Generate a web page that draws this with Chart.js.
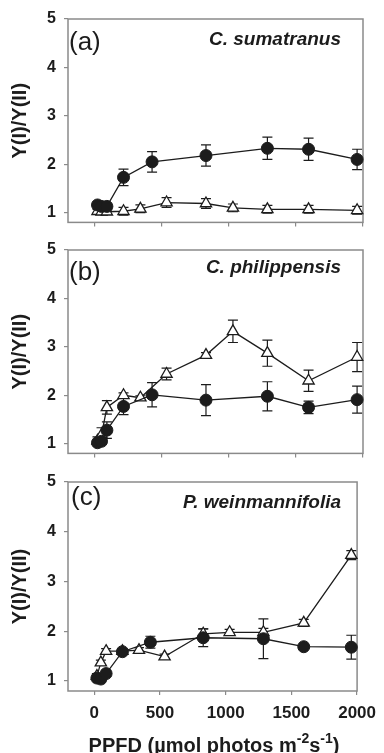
<!DOCTYPE html>
<html>
<head>
<meta charset="utf-8">
<script src="https://cdn.jsdelivr.net/npm/chart.js@4.4.1/dist/chart.umd.min.js"></script>
<style>
  html, body { margin: 0; padding: 0; background: #fff; }
  #wrap { position: relative; width: 384px; height: 753px; overflow: hidden; background: #fff; }
  #wrap canvas { position: absolute; left: 0; }
</style>
</head>
<body>
<div id="wrap">
  <canvas id="chart_a"></canvas>
  <canvas id="chart_b"></canvas>
  <canvas id="chart_c"></canvas>
</div>
<script>
// PPFD steps (umol photons m-2 s-1)
const ppfdCircle = [20, 50, 90, 214, 427, 829, 1287, 1594, 1956];
const ppfdTriangle = [20, 50, 90, 214, 340, 535, 829, 1030, 1287, 1594, 1956];
const xTicks = [0, 500, 1000, 1500, 2000];
const yTicks = [1, 2, 3, 4, 5];

// (a) C. sumatranus
const sumatranusCircle = [1.16, 1.13, 1.13, 1.73, 2.05, 2.18, 2.33, 2.31, 2.10];
const sumatranusCircleErr = [0.06, 0.05, 0.05, 0.17, 0.21, 0.22, 0.23, 0.23, 0.21];
const sumatranusTriangle = [1.03, 1.02, 1.02, 1.03, 1.08, 1.21, 1.19, 1.10, 1.07, 1.07, 1.05];
const sumatranusTriangleErr = [0.04, 0.04, 0.04, 0.08, 0.08, 0.10, 0.10, 0.08, 0.08, 0.08, 0.08];

// (b) C. philippensis
const philippensisCircle = [1.02, 1.05, 1.28, 1.77, 2.01, 1.90, 1.98, 1.75, 1.91];
const philippensisCircleErr = [0.04, 0.06, 0.17, 0.17, 0.25, 0.32, 0.30, 0.13, 0.28];
const philippensisTriangle = [1.06, 1.18, 1.75, 2.00, 1.95, 2.44, 2.83, 3.32, 2.87, 2.30, 2.79];
const philippensisTriangleErr = [0.08, 0.15, 0.14, 0.05, 0.04, 0.12, 0.05, 0.23, 0.27, 0.22, 0.30];

// (c) P. weinmannifolia
const weinmannifoliaCircle = [1.06, 1.04, 1.15, 1.59, 1.78, 1.87, 1.85, 1.69, 1.68];
const weinmannifoliaCircleErr = [0.04, 0.05, 0.05, 0.05, 0.12, 0.18, 0.40, 0.03, 0.24];
const weinmannifoliaTriangle = [1.10, 1.37, 1.60, 1.60, 1.62, 1.49, 1.95, 1.98, 1.98, 2.17, 3.53];
const weinmannifoliaTriangleErr = [0.05, 0.05, 0.05, 0.05, 0.05, 0.05, 0.10, 0.06, 0.08, 0.07, 0.09];

const INK = '#1c1c1c';
const FRAME = '#8a8a8a';
const FONT = '"Liberation Sans", Arial, Helvetica, sans-serif';

const panels = [
    { id: 'chart_a', tag: '(a)', species: 'C. sumatranus',
      circle: sumatranusCircle, circleErr: sumatranusCircleErr,
      tri: sumatranusTriangle, triErr: sumatranusTriangleErr,
      plotTop: 19, plotBottom: 229, showX: false, tagX: 69, tagY: 50, speciesY: 45 },
    { id: 'chart_b', tag: '(b)', species: 'C. philippensis',
      circle: philippensisCircle, circleErr: philippensisCircleErr,
      tri: philippensisTriangle, triErr: philippensisTriangleErr,
      plotTop: 250, plotBottom: 460, showX: false, tagX: 69, tagY: 280, speciesY: 273 },
    { id: 'chart_c', tag: '(c)', species: 'P. weinmannifolia',
      circle: weinmannifoliaCircle, circleErr: weinmannifoliaCircleErr,
      tri: weinmannifoliaTriangle, triErr: weinmannifoliaTriangleErr,
      plotTop: 482, plotBottom: 691, showX: true, tagX: 71, tagY: 505, speciesY: 508 }
];

function toPoints(xs, ys) {
    return xs.map((x, i) => ({ x: x, y: ys[i] }));
}

// box around the plot area
const framePlugin = {
    id: 'frame',
    beforeDatasetsDraw(chart) {
        const a = chart.chartArea;
        const ctx = chart.ctx;
        ctx.save();
        ctx.strokeStyle = FRAME;
        ctx.lineWidth = 1.5;
        ctx.strokeRect(a.left, a.top, a.right - a.left, a.bottom - a.top);
        ctx.restore();
    }
};

// vertical error bars with caps, drawn under the markers
const errorBarPlugin = {
    id: 'errorBars',
    beforeDatasetsDraw(chart) {
        const ctx = chart.ctx;
        const xs = chart.scales.x;
        const ys = chart.scales.y;
        ctx.save();
        ctx.strokeStyle = INK;
        ctx.lineWidth = 1.2;
        chart.data.datasets.forEach(ds => {
            ds.data.forEach((pt, i) => {
                const err = ds.errors[i];
                const px = xs.getPixelForValue(pt.x);
                const top = ys.getPixelForValue(pt.y + err);
                const bottom = ys.getPixelForValue(pt.y - err);
                ctx.beginPath();
                ctx.moveTo(px, top);
                ctx.lineTo(px, bottom);
                ctx.moveTo(px - 5, top);
                ctx.lineTo(px + 5, top);
                ctx.moveTo(px - 5, bottom);
                ctx.lineTo(px + 5, bottom);
                ctx.stroke();
            });
        });
        ctx.restore();
    }
};

function makeLabelPlugin(p, canvasTop) {
    return {
        id: 'panelLabels',
        afterDraw(chart) {
            const ctx = chart.ctx;
            ctx.save();
            ctx.fillStyle = INK;
            ctx.textBaseline = 'alphabetic';
            ctx.textAlign = 'left';
            ctx.font = '26px ' + FONT;
            ctx.fillText(p.tag, p.tagX, p.tagY - canvasTop);
            ctx.textAlign = 'right';
            ctx.font = 'italic bold 19px ' + FONT;
            ctx.fillText(p.species, 341, p.speciesY - canvasTop);
            ctx.restore();
        }
    };
}

// x axis title with superscripts, only on the bottom panel
function makeXTitlePlugin(canvasTop) {
    return {
        id: 'xTitle',
        afterDraw(chart) {
            const ctx = chart.ctx;
            const parts = [
                { text: 'PPFD (\u00b5mol photos m', sup: false },
                { text: '-2', sup: true },
                { text: 's', sup: false },
                { text: '-1', sup: true },
                { text: ')', sup: false }
            ];
            const mainFont = 'bold 20px ' + FONT;
            const supFont = 'bold 14px ' + FONT;
            ctx.save();
            ctx.fillStyle = INK;
            ctx.textBaseline = 'alphabetic';
            ctx.textAlign = 'left';
            let total = 0;
            parts.forEach(pt => {
                ctx.font = pt.sup ? supFont : mainFont;
                pt.w = ctx.measureText(pt.text).width;
                total += pt.w;
            });
            let x = 214 - total / 2;
            const base = 752 - canvasTop;
            parts.forEach(pt => {
                ctx.font = pt.sup ? supFont : mainFont;
                ctx.fillText(pt.text, x, pt.sup ? base - 9 : base);
                x += pt.w;
            });
            ctx.restore();
        }
    };
}

function buildPanel(p) {
    const canvas = document.getElementById(p.id);
    const canvasTop = p.plotTop - 19;
    const xHeight = p.showX ? 72 : 11;
    canvas.width = 384;
    canvas.height = p.plotBottom - canvasTop + xHeight;
    canvas.style.top = canvasTop + 'px';

    const extra = [framePlugin, errorBarPlugin, makeLabelPlugin(p, canvasTop)];
    if (p.showX) {
        extra.push(makeXTitlePlugin(canvasTop));
    }

    return new Chart(canvas, {
        type: 'line',
        data: {
            datasets: [
                {
                    label: 'circle',
                    data: toPoints(ppfdCircle, p.circle),
                    errors: p.circleErr,
                    borderColor: INK,
                    borderWidth: 1.3,
                    pointStyle: 'circle',
                    pointRadius: 6,
                    pointBackgroundColor: INK,
                    pointBorderColor: INK,
                    pointBorderWidth: 1,
                    tension: 0,
                    clip: false
                },
                {
                    label: 'triangle',
                    data: toPoints(ppfdTriangle, p.tri),
                    errors: p.triErr,
                    borderColor: INK,
                    borderWidth: 1.3,
                    pointStyle: 'triangle',
                    pointRadius: 6.5,
                    pointBackgroundColor: '#ffffff',
                    pointBorderColor: INK,
                    pointBorderWidth: 1.3,
                    tension: 0,
                    clip: false
                }
            ]
        },
        options: {
            responsive: false,
            animation: false,
            devicePixelRatio: 1,
            layout: { padding: { left: 0, top: 19, right: 21, bottom: 0 } },
            scales: {
                x: {
                    type: 'linear',
                    min: -200,
                    max: 2000,
                    afterBuildTicks: s => { s.ticks = xTicks.map(v => ({ value: v })); },
                    afterFit: s => { s.height = xHeight; },
                    grid: { drawOnChartArea: false, drawTicks: true, tickLength: 4, color: FRAME, lineWidth: 1.2 },
                    border: { display: false },
                    ticks: {
                        display: p.showX,
                        autoSkip: false,
                        maxRotation: 0,
                        padding: 8,
                        color: INK,
                        font: { family: FONT, size: 17, weight: 'bold' },
                        callback: v => String(v)
                    }
                },
                y: {
                    min: 0.8,
                    max: 5,
                    afterBuildTicks: s => { s.ticks = yTicks.map(v => ({ value: v })); },
                    afterFit: s => { s.width = 68; },
                    grid: { drawOnChartArea: false, drawTicks: true, tickLength: 4, color: FRAME, lineWidth: 1.2 },
                    border: { display: false },
                    ticks: {
                        padding: 8,
                        color: INK,
                        font: { family: FONT, size: 16, weight: 'bold' },
                        callback: v => String(v)
                    },
                    title: {
                        display: true,
                        text: 'Y(I)/Y(II)',
                        color: INK,
                        font: { family: FONT, size: 20, weight: 'bold' },
                        padding: { top: 8, bottom: 0 }
                    }
                }
            },
            plugins: {
                legend: { display: false },
                tooltip: { enabled: false }
            }
        },
        plugins: extra
    });
}

panels.forEach(p => buildPanel(p));
</script>
</body>
</html>
